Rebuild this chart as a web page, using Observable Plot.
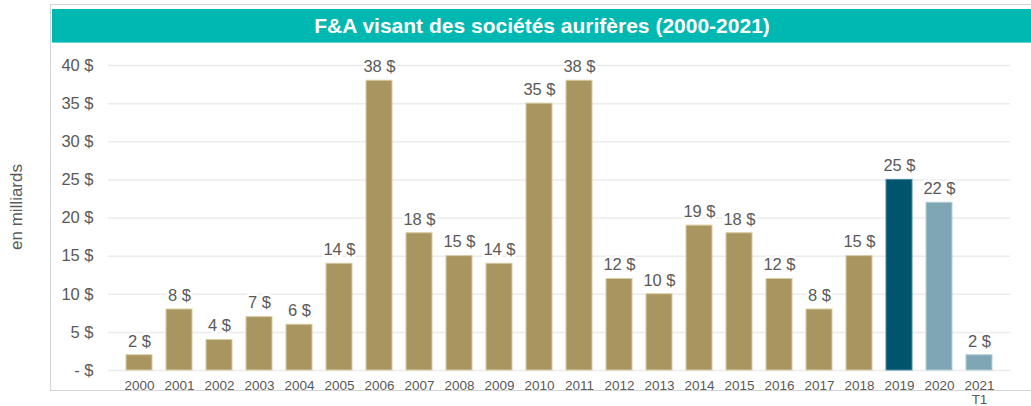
<!DOCTYPE html>
<html>
<head>
<meta charset="utf-8">
<script src="https://cdn.jsdelivr.net/npm/d3@7"></script>
<script src="https://cdn.jsdelivr.net/npm/@observablehq/plot@0.6"></script>
<style>
  html, body { margin: 0; padding: 0; background: #fff; }
  body { width: 1031px; height: 406px; position: relative; overflow: hidden; font-family: "Liberation Sans", Arial, sans-serif; }
  #frame { position: absolute; left: 50px; top: 4px; width: 990px; height: 387px; border: 1px solid #D4D4D4; box-sizing: border-box; }
  #title { position: absolute; left: 52px; top: 9px; width: 990px; height: 34px; background: #00B8B2; border-bottom: 1px solid #5FD6D1; box-sizing: border-box;
           color: #fff; font-weight: bold; font-size: 21px; line-height: 33px; text-align: center; padding-right: 10px; }
  #chart { position: absolute; left: 0; top: 0; }
  #ylabel { position: absolute; left: 17px; top: 207px; transform: translate(-50%, -50%) rotate(-90deg); color: #595959; font-size: 17px; white-space: nowrap; }
</style>
</head>
<body>
<div id="frame"></div>
<div id="title">F&amp;A visant des sociétés aurifères (2000-2021)</div>
<div id="ylabel">en milliards</div>
<div id="chart"></div>
<script>
const years = ["2000","2001","2002","2003","2004","2005","2006","2007","2008","2009","2010","2011","2012","2013","2014","2015","2016","2017","2018","2019","2020","2021"];
const values = [2, 8, 4, 7, 6, 14, 38, 18, 15, 14, 35, 38, 12, 10, 19, 18, 12, 8, 15, 25, 22, 2];
const yTicks = [0, 5, 10, 15, 20, 25, 30, 35, 40];
const xTickLabels = {"2021": "2021\nT1"};

const data = years.map((y, i) => ({year: y, value: values[i]}));
const fillFor = d => d.year === "2019" ? "#00546E" : (d.year >= "2020" ? "#7FA6B5" : "#A9955F");
const strokeFor = d => d.year === "2019" ? "#4D8AA0" : (d.year >= "2020" ? "#B5CDD6" : "#D9CBA2");

const chart = Plot.plot({
  width: 1031,
  height: 406,
  marginLeft: 108,
  marginRight: 21,
  marginTop: 65,
  marginBottom: 36,
  style: {fontFamily: "Liberation Sans, Arial, sans-serif", background: "transparent", color: "#595959"},
  x: {domain: years, padding: 0.34, label: null},
  y: {domain: [0, 40], label: null},
  marks: [
    Plot.ruleY(yTicks, {stroke: "#EBEBEB", strokeWidth: 1.5}),
    Plot.barY(data, {x: "year", y: "value", fill: fillFor, stroke: strokeFor, strokeWidth: 1, inset: 0}),
    Plot.text(data, {x: "year", y: "value", text: d => d.value + " $", dy: -14, fontSize: 16.5, fill: "#595959",
      stroke: "white", strokeWidth: 5, paintOrder: "stroke"}),
    Plot.axisY({ticks: yTicks, tickSize: 0, tickPadding: 15, fontSize: 16.5, tickFormat: d => d === 0 ? "- $" : d + " $", label: null}),
    Plot.axisX({tickSize: 0, tickPadding: 9, fontSize: 13.5, tickFormat: d => xTickLabels[d] || d, label: null, lineHeight: 1.05})
  ]
});
document.getElementById("chart").appendChild(chart);
</script>
</body>
</html>
